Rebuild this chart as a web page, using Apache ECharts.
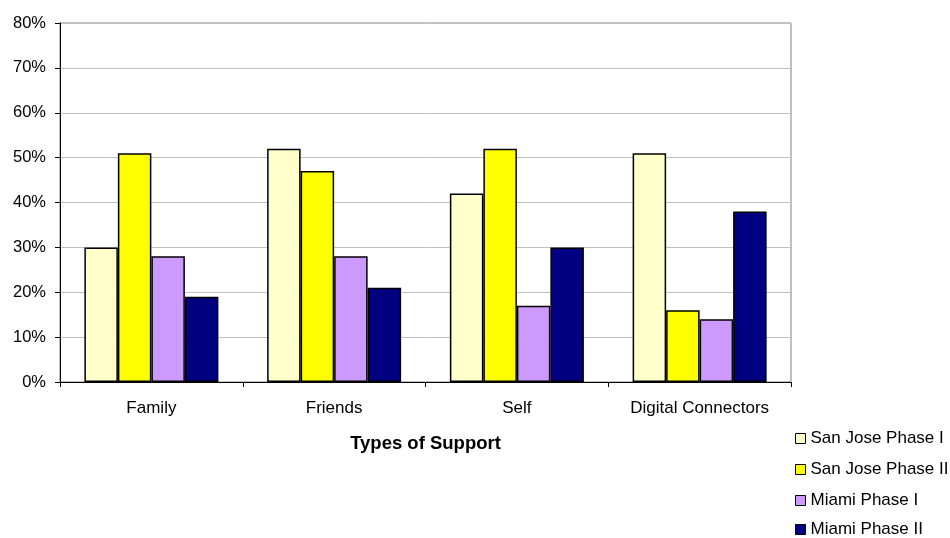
<!DOCTYPE html>
<html>
<head>
<meta charset="utf-8">
<script src="https://cdn.jsdelivr.net/npm/echarts@6/dist/echarts.min.js"></script>
<style>
  html, body { margin: 0; padding: 0; background: #fff; }
  #chart { width: 950px; height: 538px; }
</style>
</head>
<body>
<div id="chart"></div>
<script>
// Share of respondents by type of support (percent)
const categories = ['Family', 'Friends', 'Self', 'Digital Connectors'];
const seriesNames = ['San Jose Phase I', 'San Jose Phase II', 'Miami Phase I', 'Miami Phase II'];
const sanJosePhase1 = [30, 52, 42, 51];
const sanJosePhase2 = [51, 47, 52, 16];
const miamiPhase1 = [28, 28, 17, 14];
const miamiPhase2 = [19, 21, 30, 38];
const yTicks = [0, 10, 20, 30, 40, 50, 60, 70, 80];
const colors = ['#FFFFCC', '#FFFF00', '#CC99FF', '#000080'];

const values = [sanJosePhase1, sanJosePhase2, miamiPhase1, miamiPhase2];
const font = 'Liberation Sans, Arial, sans-serif';

// One legend entry per row, stacked down the bottom-right corner
const legendRowTops = [430, 461, 492, 521];
const legends = seriesNames.map((name, i) => ({
  orient: 'vertical',
  left: 795,
  top: legendRowTops[i],
  padding: 0,
  itemWidth: 10,
  itemHeight: 10,
  itemGap: 6,
  icon: 'rect',
  data: [name],
  textStyle: { fontFamily: font, fontSize: 17, color: '#000', lineHeight: 17 },
  itemStyle: { borderColor: '#000', borderWidth: 1 }
}));

const chart = echarts.init(document.getElementById('chart'), null, { renderer: 'canvas' });
chart.setOption({
  animation: false,
  textStyle: { fontFamily: font },
  grid: {
    left: 60, right: 159, top: 23, bottom: 156,
    show: true, borderColor: '#808080', borderWidth: 1, backgroundColor: 'transparent'
  },
  legend: legends,
  xAxis: {
    type: 'category',
    data: categories,
    name: 'Types of Support',
    nameLocation: 'middle',
    nameGap: 52,
    nameTextStyle: { fontFamily: font, fontSize: 18.5, fontWeight: 'bold', color: '#000' },
    axisLine: { lineStyle: { color: '#000', width: 1 } },
    axisTick: { show: true, length: 5, lineStyle: { color: '#000' } },
    axisLabel: { fontFamily: font, fontSize: 17, color: '#000', margin: 18 },
    splitLine: { show: false }
  },
  yAxis: {
    type: 'value',
    min: yTicks[0],
    max: yTicks[yTicks.length - 1],
    interval: yTicks[1] - yTicks[0],
    axisLine: { show: true, lineStyle: { color: '#000', width: 1 } },
    axisTick: { show: true, length: 5, lineStyle: { color: '#000' } },
    axisLabel: { fontFamily: font, fontSize: 16.5, color: '#000', margin: 14, formatter: '{value}%' },
    splitLine: { show: true, lineStyle: { color: '#C0C0C0', width: 1 } }
  },
  series: seriesNames.map((name, i) => ({
    name: name,
    type: 'bar',
    data: values[i],
    barWidth: 33.5,
    barGap: '0%',
    itemStyle: { color: colors[i], borderColor: '#000', borderWidth: 1.5 }
  }))
});
</script>
</body>
</html>
